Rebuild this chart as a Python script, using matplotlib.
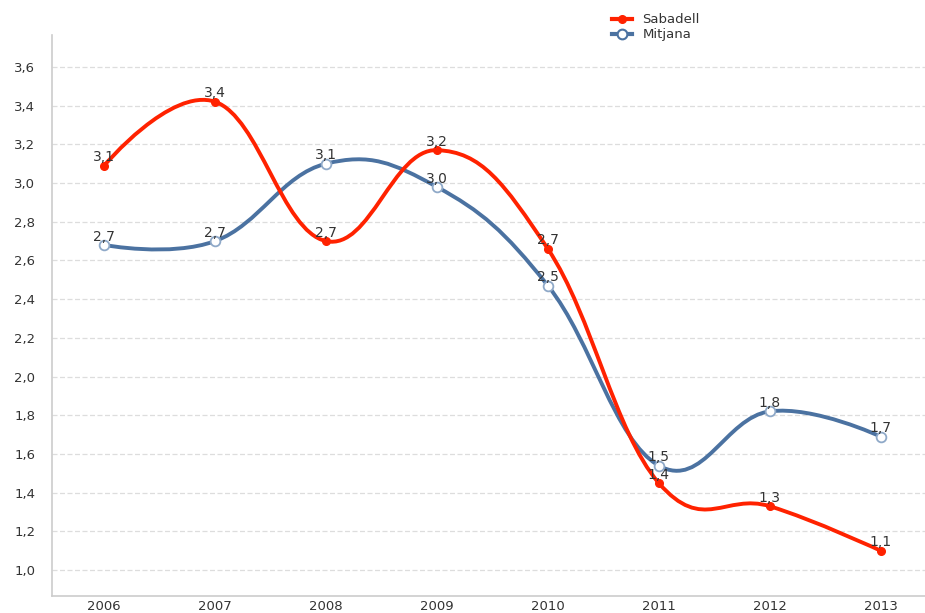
import matplotlib
matplotlib.use("Agg")
import matplotlib.pyplot as plt
from matplotlib.path import Path
from matplotlib.patches import PathPatch
from matplotlib.lines import Line2D

years = ["2006", "2007", "2008", "2009", "2010", "2011", "2012", "2013"]
sabadell = [3.09, 3.42, 2.70, 3.17, 2.66, 1.45, 1.33, 1.10]
mitjana = [2.68, 2.70, 3.10, 2.98, 2.47, 1.54, 1.82, 1.69]
yticks = [1.0, 1.2, 1.4, 1.6, 1.8, 2.0, 2.2, 2.4, 2.6, 2.8, 3.0, 3.2, 3.4, 3.6]

RED = "#FF2200"
BLUE = "#4B72A1"
TEXT = "#333333"


def spline_path(xs, ys, smoothing=1.5):
    """Highcharts-style spline (without extreme clamping) as Bezier path."""
    n = len(xs)
    denom = smoothing + 1
    lc = [(x, y) for x, y in zip(xs, ys)]
    rc = [(x, y) for x, y in zip(xs, ys)]
    for i in range(1, n - 1):
        px, py = xs[i], ys[i]
        lx, ly = xs[i - 1], ys[i - 1]
        nx, ny = xs[i + 1], ys[i + 1]
        lcx = (smoothing * px + lx) / denom
        lcy = (smoothing * py + ly) / denom
        rcx = (smoothing * px + nx) / denom
        rcy = (smoothing * py + ny) / denom
        if rcx != lcx:
            corr = ((rcy - lcy) * (rcx - px)) / (rcx - lcx) + py - rcy
            lcy += corr
            rcy += corr
        lc[i] = (lcx, lcy)
        rc[i] = (rcx, rcy)
    verts = [(xs[0], ys[0])]
    codes = [Path.MOVETO]
    for i in range(1, n):
        verts += [rc[i - 1], lc[i], (xs[i], ys[i])]
        codes += [Path.CURVE4] * 3
    return Path(verts, codes)


fig = plt.figure(figsize=(9.25, 6.13), dpi=100)
ax = fig.add_axes([52 / 925, 17 / 613, 1 - 52 / 925, (596 - 35) / 613])

x = list(range(len(years)))
ax.set_xlim(-0.47, 7.40)
ax.set_ylim(0.866, 3.765)

for ys, col in [(mitjana, BLUE), (sabadell, RED)]:
    p = spline_path(x, ys)
    ax.add_patch(PathPatch(p, facecolor="none", edgecolor=col, lw=2.8,
                           capstyle="round", joinstyle="round", zorder=3))

ax.plot(x, mitjana, linestyle="none", marker="o", ms=7, mfc="white",
        mec="#8FA9C8", mew=1.3, zorder=4)
ax.plot(x, sabadell, linestyle="none", marker="o", ms=5.5, mfc=RED,
        mec=RED, zorder=5)

for xi, v in zip(x, sabadell):
    ax.annotate(f"{v:.1f}".replace(".", ","), (xi, v), xytext=(0, 1),
                textcoords="offset points", ha="center", va="bottom",
                fontsize=10, color=TEXT, zorder=6)
for xi, v in zip(x, mitjana):
    ax.annotate(f"{v:.1f}".replace(".", ","), (xi, v), xytext=(0, 1),
                textcoords="offset points", ha="center", va="bottom",
                fontsize=10, color=TEXT, zorder=6)

ax.set_xticks(x)
ax.set_xticklabels(years)
ax.set_yticks(yticks)
ax.set_yticklabels([f"{t:.1f}".replace(".", ",") for t in yticks])
ax.tick_params(axis="both", length=0, labelsize=9.5, colors=TEXT)
ax.tick_params(axis="y", pad=12)
ax.tick_params(axis="x", pad=3)
ax.grid(axis="y", color="#DDDDDD", linestyle=(0, (4, 2)), lw=0.9)
ax.set_axisbelow(True)
for s in ["top", "right"]:
    ax.spines[s].set_visible(False)
ax.spines["left"].set_color("#CCCCCC")
ax.spines["bottom"].set_color("#CCCCCC")
ax.spines["left"].set_linewidth(1.2)
ax.spines["bottom"].set_linewidth(1.2)

handles = [
    Line2D([], [], color=RED, lw=3, marker="o", ms=5.5, mfc=RED, mec=RED),
    Line2D([], [], color=BLUE, lw=3, marker="o", ms=7, mfc="white", mec=BLUE, mew=1.5),
]
fig.legend(handles, ["Sabadell", "Mitjana"], loc="upper left",
           bbox_to_anchor=(603 / 925, 1 - 4 / 613), frameon=False,
           fontsize=9.5, handlelength=1.5, handletextpad=0.8,
           labelspacing=0.15, labelcolor=TEXT, borderpad=0.2)

fig.savefig("out.png", dpi=100, facecolor="white")
